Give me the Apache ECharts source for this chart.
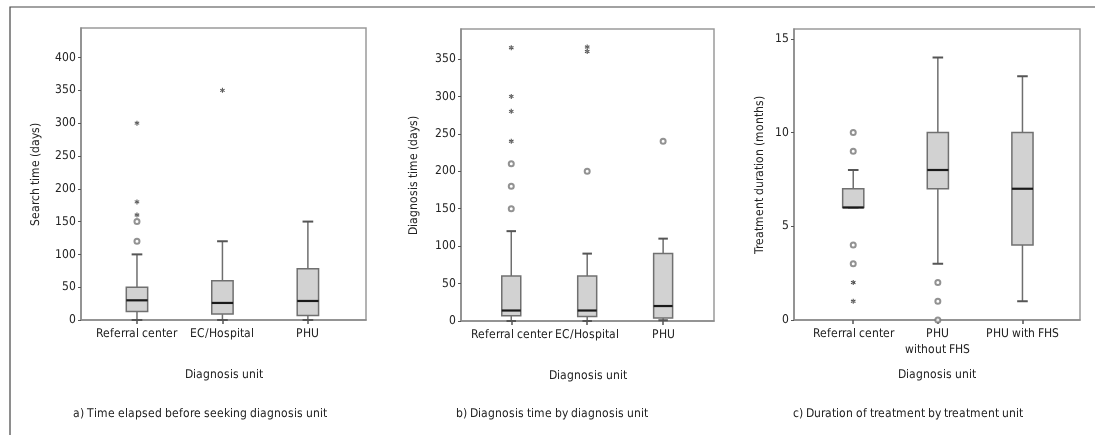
<!DOCTYPE html>
<html>
<head>
<meta charset="utf-8">
<title>Boxplots</title>
<script src="https://cdn.jsdelivr.net/npm/echarts@6/dist/echarts.min.js"></script>
<style>
  @font-face {
    font-family: 'CondSans';
    src: local('Liberation Sans Narrow'), local('LiberationSansNarrow-Regular'),
         local('DejaVu Sans Condensed'), local('DejaVuSansCondensed');
  }
  html, body { margin: 0; padding: 0; background: #fff; }
  #main { width: 1095px; height: 435px; }
</style>
</head>
<body>
<div id="main"></div>
<script>
// categories
var catA = ['Referral center', 'EC/Hospital', 'PHU'];
var catB = ['Referral center', 'EC/Hospital', 'PHU'];
var catC = ['Referral center', 'PHU\nwithout FHS', 'PHU with FHS'];

// boxes: [low whisker, Q1, median, Q3, high whisker]
var boxA = [[0, 13, 30, 50, 100], [0, 9, 26, 60, 120], [0, 7, 29, 78, 150]];
var boxB = [[0, 7, 14, 60, 120], [0, 6, 14, 60, 90], [1, 4, 20, 90, 110]];
var boxC = [[6, 6, 6, 7, 8], [3, 7, 8, 10, 14], [1, 4, 7, 10, 13]];

// outliers: [category no., value]
var circA = [[1, 120], [1, 150]];
var starA = [[1, 160], [1, 180], [1, 300], [2, 350]];
var circB = [[1, 150], [1, 180], [1, 210], [2, 200], [3, 240]];
var starB = [[1, 240], [1, 280], [1, 300], [1, 365], [2, 360], [2, 366]];
var circC = [[1, 10], [1, 9], [1, 4], [1, 3], [2, 2], [2, 1], [2, 0]];
var starC = [[1, 2], [1, 1]];

// tick labels
var ticksA = [0, 50, 100, 150, 200, 250, 300, 350, 400];
var ticksB = [0, 50, 100, 150, 200, 250, 300, 350];
var ticksC = [0, 5, 10, 15];

var FONT = "CondSans, 'DejaVu Sans Condensed', Roboto, sans-serif";
var FS = 12;
var TXT = '#222';
var STAR = 'path://M4,0 L6,0 L6,10 L4,10 Z M9.83,3.37 L8.83,1.63 L0.17,6.63 L1.17,8.37 Z M0.17,3.37 L1.17,1.63 L9.83,6.63 L8.83,8.37 Z';

function boxItems(box) {
  return box.map(function (b, i) { return [i + 1].concat(b); });
}

function renderBox(params, api) {
  var x = api.value(0);
  var lo = api.coord([x, api.value(1)]);
  var q1 = api.coord([x, api.value(2)]);
  var md = api.coord([x, api.value(3)]);
  var q3 = api.coord([x, api.value(4)]);
  var hi = api.coord([x, api.value(5)]);
  var w = api.size([0.25, 0])[0];
  var cx = q1[0];
  var line = { stroke: '#6e6e6e', lineWidth: 1.5 };
  return {
    type: 'group',
    children: [
      { type: 'line', shape: { x1: cx, y1: hi[1], x2: cx, y2: q3[1] }, style: line },
      { type: 'line', shape: { x1: cx, y1: lo[1], x2: cx, y2: q1[1] }, style: line },
      { type: 'line', shape: { x1: cx - w / 4, y1: hi[1], x2: cx + w / 4, y2: hi[1] }, style: { stroke: '#555', lineWidth: 2 } },
      { type: 'line', shape: { x1: cx - w / 4, y1: lo[1], x2: cx + w / 4, y2: lo[1] }, style: { stroke: '#555', lineWidth: 2 } },
      { type: 'rect', shape: { x: cx - w / 2, y: q3[1], width: w, height: q1[1] - q3[1] },
        style: { fill: '#d2d2d2', stroke: '#707070', lineWidth: 1.5 } },
      { type: 'line', shape: { x1: cx - w / 2, y1: md[1], x2: cx + w / 2, y2: md[1] }, style: { stroke: '#1a1a1a', lineWidth: 2.2 } }
    ]
  };
}

var grids = [
  { left: 81, top: 28, width: 285, height: 292 },
  { left: 461, top: 29, width: 253, height: 292 },
  { left: 794, top: 29, width: 286, height: 291 }
];
grids.forEach(function (g) {
  g.show = true; g.borderColor = '#9a9a9a'; g.borderWidth = 1.5; g.backgroundColor = 'transparent';
});

function xAxis(idx, cats, min, max) {
  return {
    type: 'value', gridIndex: idx, min: min, max: max,
    name: 'Diagnosis unit', nameLocation: 'middle', nameGap: 49,
    nameTextStyle: { fontFamily: FONT, fontSize: FS, color: TXT },
    axisLine: { show: true, onZero: false, lineStyle: { color: '#8a8a8a', width: 1.5 } },
    axisTick: { show: true, customValues: [1, 2, 3], length: 4, lineStyle: { color: '#555', width: 1.5 } },
    axisLabel: {
      customValues: [1, 2, 3], margin: 6, fontFamily: FONT, fontSize: FS, color: TXT, lineHeight: 16,
      hideOverlap: false,
      formatter: function (v) { return cats[Math.round(v) - 1]; }
    },
    splitLine: { show: false }
  };
}

function yAxis(idx, name, max, ticks, gap) {
  return {
    type: 'value', gridIndex: idx, min: 0, max: max,
    name: name, nameLocation: 'middle', nameGap: gap,
    nameTextStyle: { fontFamily: FONT, fontSize: FS, color: TXT },
    axisLine: { show: true, lineStyle: { color: '#8a8a8a', width: 1.5 } },
    axisTick: { show: true, customValues: ticks, length: 3, lineStyle: { color: '#555' } },
    axisLabel: { customValues: ticks, margin: 5, fontFamily: FONT, fontSize: FS, color: TXT },
    splitLine: { show: false }
  };
}

function outlierSeries(idx, circ, star) {
  return [
    { type: 'scatter', xAxisIndex: idx, yAxisIndex: idx, data: circ, symbol: 'emptyCircle', symbolSize: 5,
      itemStyle: { color: '#777', borderColor: '#777', borderWidth: 1.5 }, z: 5, silent: true },
    { type: 'scatter', xAxisIndex: idx, yAxisIndex: idx, data: star, symbol: STAR, symbolSize: 5,
      itemStyle: { color: '#222' }, z: 5, silent: true }
  ];
}

function caption(text, x) {
  return { text: text, left: x, top: 403, textAlign: 'center',
    textStyle: { fontFamily: FONT, fontSize: FS, fontWeight: 'normal', color: TXT } };
}

function draw() {
  var chart = echarts.init(document.getElementById('main'), null, { renderer: 'canvas' });
  chart.setOption({
    animation: false,
    backgroundColor: '#fff',
    grid: grids,
    xAxis: [xAxis(0, catA, 0.345, 3.68), xAxis(1, catB, 0.338, 3.67), xAxis(2, catC, 0.3, 3.68)],
    yAxis: [
      yAxis(0, 'Search time (days)', 445, ticksA, 39),
      yAxis(1, 'Diagnosis time (days)', 390, ticksB, 41),
      yAxis(2, 'Treatment duration (months)', 15.52, ticksC, 28)
    ],
    title: [
      caption('a) Time elapsed before seeking diagnosis unit', 195),
      caption('b) Diagnosis time by diagnosis unit', 547),
      caption('c) Duration of treatment by treatment unit', 903)
    ],
    graphic: [
      { type: 'polyline', shape: { points: [[10, 435], [10, 7], [1095, 7]] },
        style: { stroke: '#444', lineWidth: 1.2, fill: null } }
    ],
    series: [
      { type: 'custom', xAxisIndex: 0, yAxisIndex: 0, data: boxItems(boxA), renderItem: renderBox, silent: true },
      { type: 'custom', xAxisIndex: 1, yAxisIndex: 1, data: boxItems(boxB), renderItem: renderBox, silent: true },
      { type: 'custom', xAxisIndex: 2, yAxisIndex: 2, data: boxItems(boxC), renderItem: renderBox, silent: true }
    ].concat(outlierSeries(0, circA, starA), outlierSeries(1, circB, starB), outlierSeries(2, circC, starC))
  });
}

if (document.fonts && document.fonts.load) {
  document.fonts.load('12px CondSans').then(draw, draw);
} else {
  draw();
}
</script>
</body>
</html>
